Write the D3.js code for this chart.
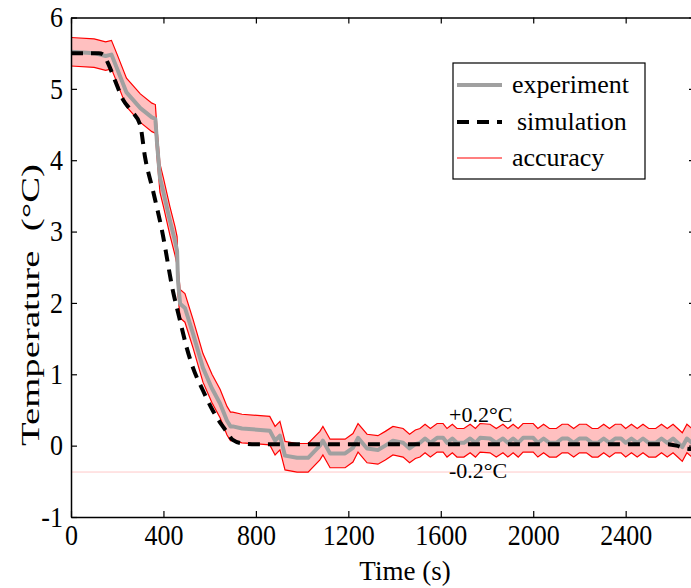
<!DOCTYPE html>
<html>
<head>
<meta charset="utf-8">
<script src="https://cdn.jsdelivr.net/npm/d3@7"></script>
<style>
body { margin: 0; background: #fff; }
svg text { font-family: "Liberation Serif", "Times New Roman", serif; fill: #000; }
</style>
</head>
<body>
<div id="main"></div>
<script>

// experiment readings (time s, temperature C)
var expTime = [0, 100, 150, 175, 200, 240, 300, 350, 365, 372, 385, 400, 428, 450, 459, 463, 472, 493, 528, 571, 610, 645, 675, 690, 700, 740, 860, 883, 904, 926, 978, 1026, 1077, 1090, 1121, 1186, 1220, 1242, 1281, 1328, 1360, 1393, 1437, 1465, 1490, 1510, 1532, 1555, 1584, 1610, 1627, 1650, 1670, 1700, 1727, 1750, 1770, 1813, 1840, 1869, 1890, 1913, 1935, 1956, 2000, 2020, 2045, 2070, 2100, 2125, 2150, 2175, 2200, 2230, 2255, 2280, 2305, 2330, 2355, 2380, 2400, 2425, 2450, 2475, 2500, 2530, 2555, 2580, 2605, 2625, 2645, 2665, 2690, 2700];
var expTemp = [5.52, 5.50, 5.46, 5.48, 5.28, 4.95, 4.73, 4.60, 4.58, 4.25, 3.75, 3.55, 3.15, 2.87, 2.73, 2.31, 1.99, 1.93, 1.57, 1.09, 0.80, 0.59, 0.35, 0.27, 0.27, 0.24, 0.21, 0.07, 0.14, -0.14, -0.17, -0.17, 0.0, 0.07, -0.11, -0.11, -0.03, 0.11, -0.04, -0.06, 0.0, 0.07, 0.04, -0.04, 0.02, 0.04, 0.10, 0.04, 0.11, 0.11, 0.04, 0.10, 0.04, 0.04, 0.10, 0.04, 0.11, 0.10, 0.04, 0.10, 0.04, 0.10, 0.04, 0.11, 0.11, 0.04, 0.10, 0.04, 0.04, 0.10, 0.10, 0.04, 0.10, 0.10, 0.04, 0.04, 0.10, 0.04, 0.10, 0.10, 0.04, 0.10, 0.04, 0.10, 0.04, 0.04, 0.10, 0.04, 0.10, 0.04, -0.02, 0.10, 0.03, 0.05];

// simulation
var simTime = [0, 120, 140, 160, 190, 225, 264, 299, 320, 355, 394, 441, 472, 500, 528, 570, 614, 650, 675, 700, 744, 800, 2580, 2620, 2660, 2700];
var simTemp = [5.50, 5.50, 5.48, 5.36, 5.12, 4.85, 4.68, 4.50, 4.05, 3.57, 3.01, 2.17, 1.75, 1.38, 1.09, 0.78, 0.49, 0.30, 0.19, 0.08, 0.03, 0.02, 0.02, 0.0, -0.04, -0.05];

var accuracy = 0.2;      // +/- band
var refLine = -0.37;     // faint line at band minimum

var xTicks = [0, 400, 800, 1200, 1600, 2000, 2400];
var yTicks = [-1, 0, 1, 2, 3, 4, 5, 6];
var legendLabels = ["experiment", "simulation", "accuracy"];

var w = 691, h = 588;
var serif = "Liberation Serif";
var stretch = 1.12;   // the original figure's tick text is a bit tall

var x = d3.scaleLinear().domain([0, 2700]).range([71, 695]);
var y = d3.scaleLinear().domain([-1, 6]).range([517, 17.5]);

var svg = d3.select("#main").append("svg")
	.attr("width", w)
	.attr("height", h);

svg.append("clipPath").attr("id", "clip")
	.append("rect")
	.attr("x", x(0)).attr("y", y(6))
	.attr("width", x(2700) - x(0)).attr("height", y(-1) - y(6));

var expData = expTime.map(function(t, i) { return {t: t, v: expTemp[i]}; });
var simData = simTime.map(function(t, i) { return {t: t, v: simTemp[i]}; });

var plot = svg.append("g").attr("clip-path", "url(#clip)");

// faint reference line
plot.append("line")
	.attr("x1", x(0)).attr("x2", x(2700))
	.attr("y1", y(refLine)).attr("y2", y(refLine))
	.attr("stroke", "#ffc8c8")
	.attr("stroke-width", 1);

// accuracy band
var area = d3.area()
	.x(function(d) { return x(d.t); })
	.y0(function(d) { return y(d.v - accuracy); })
	.y1(function(d) { return y(d.v + accuracy); });

plot.append("path")
	.datum(expData)
	.attr("d", area)
	.attr("fill", "#ffc0c0");

var upper = d3.line().x(function(d) { return x(d.t); }).y(function(d) { return y(d.v + accuracy); });
var lower = d3.line().x(function(d) { return x(d.t); }).y(function(d) { return y(d.v - accuracy); });

plot.append("path").datum(expData).attr("d", upper)
	.attr("fill", "none").attr("stroke", "#ff0000").attr("stroke-width", 1.2);
plot.append("path").datum(expData).attr("d", lower)
	.attr("fill", "none").attr("stroke", "#ff0000").attr("stroke-width", 1.2);

var line = d3.line().x(function(d) { return x(d.t); }).y(function(d) { return y(d.v); });

plot.append("path").datum(expData).attr("d", line)
	.attr("fill", "none")
	.attr("stroke", "#a0a0a0")
	.attr("stroke-width", 4)
	.attr("stroke-linejoin", "round");

plot.append("path").datum(simData).attr("d", line.curve(d3.curveMonotoneX))
	.attr("fill", "none")
	.attr("stroke", "#000")
	.attr("stroke-width", 4)
	.attr("stroke-dasharray", "12,8");

// axes, ticks pointing inward
var fmt = function(d) { return String(d); };

var xAxis = svg.append("g")
	.attr("transform", "translate(0," + y(-1) + ")")
	.call(d3.axisBottom(x).tickValues(xTicks).tickFormat(fmt).tickSize(-6).tickPadding(7).tickSizeOuter(0));
var xTop = svg.append("g")
	.attr("transform", "translate(0," + y(6) + ")")
	.call(d3.axisTop(x).tickValues(xTicks).tickSize(-6).tickFormat("").tickSizeOuter(0));
var yAxis = svg.append("g")
	.attr("transform", "translate(" + x(0) + ",0)")
	.call(d3.axisLeft(y).tickValues(yTicks).tickFormat(fmt).tickSize(-6).tickPadding(8).tickSizeOuter(0));
var yRight = svg.append("g")
	.attr("transform", "translate(" + x(2700) + ",0)")
	.call(d3.axisRight(y).tickValues(yTicks).tickSize(-6).tickFormat("").tickSizeOuter(0));

svg.selectAll(".domain").attr("stroke", "#000").attr("stroke-width", 1.5);
svg.selectAll(".tick line").attr("stroke", "#000").attr("stroke-width", 1.2);
[xAxis, yAxis].forEach(function(g) {
	g.attr("font-family", serif).attr("font-size", 26);
	g.selectAll("text")
		.attr("fill", "#000")
		.attr("transform", "scale(1," + stretch + ")")
		.style("font-family", serif)
		.style("font-size", "26px");
});

// axis titles
svg.append("text")
	.attr("x", 405).attr("y", 580)
	.attr("text-anchor", "middle")
	.style("font-size", "27px")
	.text("Time (s)");

svg.append("text")
	.attr("transform", "translate(39,305) rotate(-90)")
	.attr("text-anchor", "middle")
	.attr("textLength", 282)
	.attr("lengthAdjust", "spacingAndGlyphs")
	.style("font-size", "26px")
	.style("white-space", "pre")
	.text("Temperature  (\u00B0C)");

// band annotations
svg.append("text")
	.attr("x", 449).attr("y", 422)
	.style("font-size", "22px")
	.text("+0.2\u00B0C");
svg.append("text")
	.attr("x", 449).attr("y", 478)
	.style("font-size", "22px")
	.text("-0.2\u00B0C");

// legend
var legend = svg.append("g");
legend.append("rect")
	.attr("x", 453).attr("y", 63)
	.attr("width", 192).attr("height", 116)
	.attr("fill", "#fff")
	.attr("stroke", "#000")
	.attr("stroke-width", 1.2);

var legendY = [85, 122, 158];
var legendStroke = ["#a0a0a0", "#000", "#ff0000"];
var legendWidth = [4, 4, 1.2];
var legendDash = [null, "12,8", null];

legendLabels.forEach(function(name, i) {
	legend.append("line")
		.attr("x1", 457).attr("x2", 502)
		.attr("y1", legendY[i]).attr("y2", legendY[i])
		.attr("stroke", legendStroke[i])
		.attr("stroke-width", legendWidth[i])
		.attr("stroke-dasharray", legendDash[i]);
	legend.append("text")
		.attr("x", i === 1 ? 517 : 512)
		.attr("y", legendY[i])
		.attr("dy", "0.3em")
		.style("font-size", "26px")
		.text(name);
});

</script>
</body>
</html>
